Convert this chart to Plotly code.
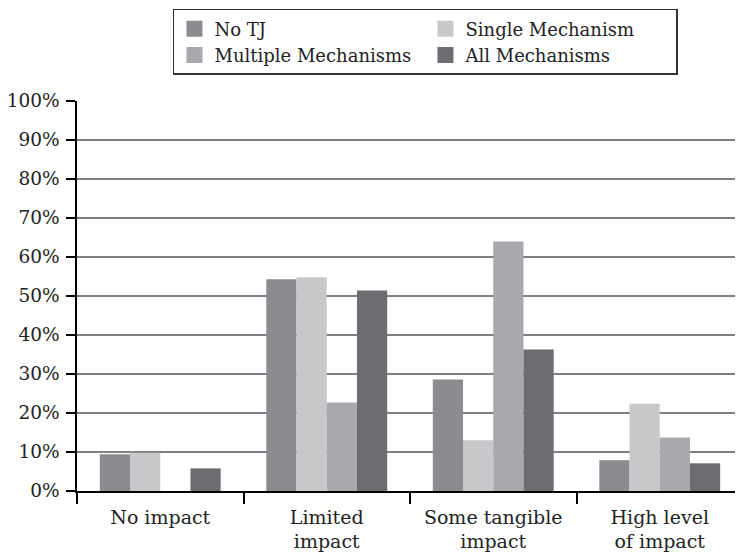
import plotly.graph_objects as go

categories = ["No impact", "Limited<br>impact", "Some tangible<br>impact", "High level<br>of impact"]
series_names = ["No TJ", "Single Mechanism", "Multiple Mechanisms", "All Mechanisms"]
no_tj = [9.4, 54.3, 28.6, 7.9]
single_mech = [9.8, 54.8, 13.0, 22.4]
multiple_mech = [0, 22.7, 64.0, 13.7]
all_mech = [5.8, 51.4, 36.3, 7.1]
colors = ["#8b8c90", "#c7c8ca", "#a8a9ad", "#6c6d71"]
y_ticks = list(range(0, 101, 10))

FONT = "DejaVu Serif"
FS = 19
fig = go.Figure()
for name, vals, col in zip(series_names, [no_tj, single_mech, multiple_mech, all_mech], colors):
    fig.add_trace(go.Bar(x=categories, y=vals, name=name, showlegend=False,
                         marker=dict(color=col, line=dict(width=0))))
# legend-only entries with larger square swatches
for name, col in zip(series_names, colors):
    fig.add_trace(go.Scatter(x=[None], y=[None], mode="markers", name=name,
                             marker=dict(symbol="square", size=16, color=col, line=dict(width=0))))

# page body has an 8px margin, so the figure is 8px smaller than the window
fig.update_layout(
    width=735, height=549,
    margin=dict(l=69, r=0, t=93, b=66),
    plot_bgcolor="white", paper_bgcolor="white",
    font=dict(family=FONT, size=FS, color="#222222"),
    barmode="group", bargap=0.274, bargroupgap=0,
    showlegend=True,
    legend=dict(
        orientation="h", x=0.1441, xanchor="left", y=1.236, yanchor="top",
        entrywidth=206, entrywidthmode="pixels",
        bordercolor="#333333", borderwidth=1.5,
        font=dict(family=FONT, size=18, color="#222222"),
        bgcolor="white",
    ),
)
fig.update_xaxes(
    automargin=False,
    showline=True, linecolor="black", linewidth=1.5,
    ticks="outside", tickson="boundaries", ticklen=11, tickcolor="black", tickwidth=1.5,
    showgrid=False, ticklabelstandoff=8,
    tickfont=dict(family=FONT, size=FS, color="#222222"),
)
fig.update_yaxes(
    automargin=False,
    range=[0, 100], tickvals=y_ticks, ticktext=[f"{v}%" for v in y_ticks],
    showline=True, linecolor="black", linewidth=1.5,
    ticks="outside", ticklen=9, tickcolor="black", tickwidth=1.5,
    showgrid=True, gridcolor="#808080", gridwidth=1.5,
    zeroline=False, ticklabelstandoff=3,
    tickfont=dict(family=FONT, size=18.5, color="#222222"),
)
fig.write_html("out.html")
